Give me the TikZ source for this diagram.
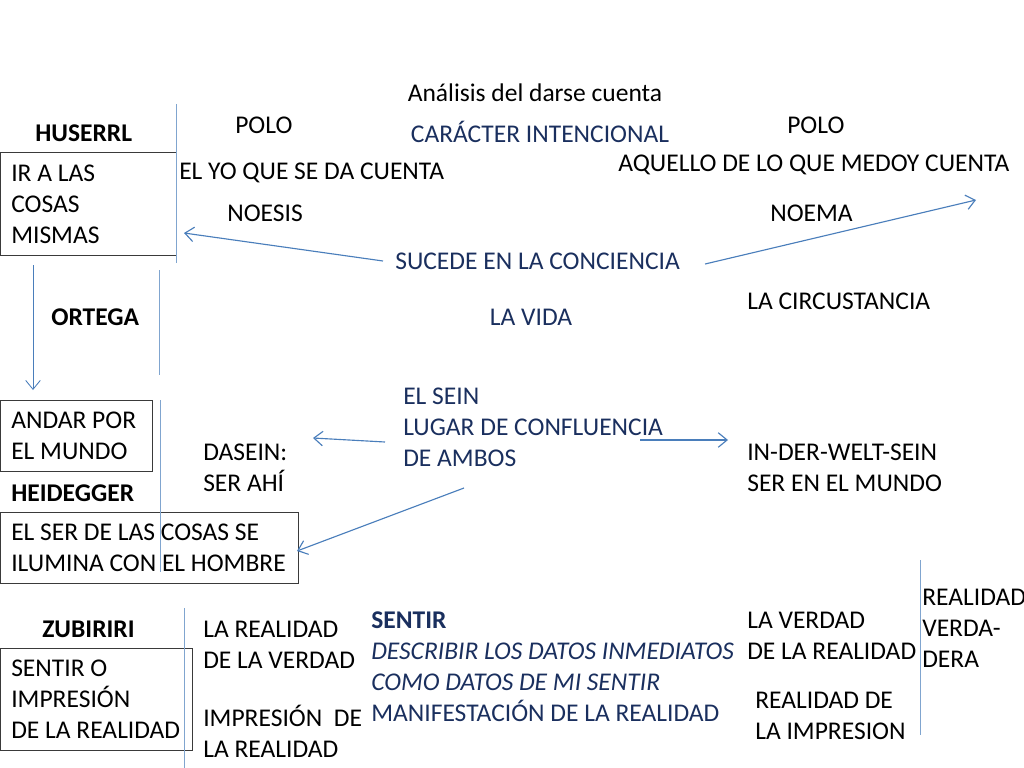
\documentclass[tikz,border=0pt]{standalone}
\usepackage{fontspec}
\setmainfont{Carlito}
\usetikzlibrary{arrows.meta}
\newlength\px
\setlength\px{0.0248cm}
\definecolor{navy}{HTML}{1A2F5E}
\definecolor{flecha}{HTML}{4A7EBB}
\definecolor{marco}{HTML}{3A3A3A}
\tikzset{
  txt/.style={anchor=west, inner sep=0pt, align=left, font=\fontsize{18}{21.8}\selectfont},
  azul/.style={txt, text=navy},
  negrita/.style={txt, font=\fontsize{18}{21.8}\selectfont\bfseries},
  caja/.style={draw=marco, line width=0.8pt, anchor=north west, inner sep=0pt},
  flechita/.style={draw=flecha, line width=0.8pt, -{Straight Barb[length=2.2mm,width=3.6mm]}},
  raya/.style={draw=flecha!70, line width=0.6pt}
}
\begin{document}
\begin{tikzpicture}[x=\px, y=-\px]
    \useasboundingbox (0,0) rectangle (1024,768);

    % Title and poles
    \node[txt, anchor=center] (titulo) at (535,93) {Análisis del darse cuenta};
    \node[txt] (polo1) at (235,125) {POLO};
    \node[txt] (polo2) at (787,125) {POLO};
    \node[azul, anchor=center] (caracter) at (540,132) {CARÁCTER INTENCIONAL};

    % Husserl
    \node[negrita] (husserl) at (35,133) {HUSERRL};
    \node[caja, minimum width=176\px, minimum height=103\px] (cosas) at (0,152) {};
    \node[txt] (cosastxt) at ([xshift=11\px]cosas.west) {IR A LAS\\COSAS\\MISMAS};
    \node[txt] (yo) at (179,173) {EL YO QUE SE DA CUENTA};
    \node[txt] (aquello) at (618,165) {AQUELLO DE LO QUE MEDOY CUENTA};
    \node[txt] (noesis) at (227,213) {NOESIS};
    \node[txt] (noema) at (770,213) {NOEMA};
    \node[azul] (sucede) at (395,261) {SUCEDE EN LA CONCIENCIA};
    \coordinate (c1) at (184,233);
    \coordinate (c2) at (976,200);
    \draw[flechita] ([xshift=-12\px]sucede.west) -- (c1);
    \draw[flechita] ([xshift=25\px,yshift=-3\px]sucede.east) -- (c2);
    \draw[raya] (176,104) -- (176,263);

    % Ortega
    \node[negrita] (ortega) at (51,317) {ORTEGA};
    \node[azul, anchor=center] (vida) at (531,317) {LA VIDA};
    \node[txt] (circ) at (747,301) {LA CIRCUSTANCIA};
    \draw[raya] (159,270) -- (159,375);
    \coordinate (c3) at (33,265);
    \coordinate (c4) at (33,390);
    \draw[flechita, line width=0.6pt] (c3) -- (c4);

    % Heidegger
    \node[caja, minimum width=152\px, minimum height=71\px] (andar) at (0,400) {};
    \node[txt] (andartxt) at ([xshift=11\px]andar.west) {ANDAR POR\\EL MUNDO};
    \node[txt] (dasein) at (203,467.5) {DASEIN:\\SER AHÍ};
    \node[azul] (sein) at (403,427) {EL SEIN\\LUGAR DE CONFLUENCIA\\DE AMBOS};
    \node[txt] (welt) at (747,468) {IN-DER-WELT-SEIN\\SER EN EL MUNDO};
    \node[negrita] (heidegger) at (11,493) {HEIDEGGER};
    \node[caja, minimum width=298\px, minimum height=71\px] (ilumina) at (0,512) {};
    \node[txt] (iluminatxt) at ([xshift=11\px]ilumina.west) {EL SER DE LAS COSAS SE\\ILUMINA CON EL HOMBRE};
    \coordinate (c5) at (313,438);
    \coordinate (c6) at (640,440);
    \coordinate (c7) at (728,440);
    \coordinate (c8) at (464,488);
    \coordinate (c9) at (297,551);
    \draw[flechita] ([xshift=-18\px,yshift=-15\px]sein.west) -- (c5);
    \draw[flechita] (c6) -- (c7);
    \draw[flechita] (c8) -- (c9);
    \draw[raya] (160,400) -- (160,572);

    % Zubiri
    \node[negrita] (zubiri) at (42,629) {ZUBIRIRI};
    \node[caja, minimum width=192\px, minimum height=102\px] (impresion) at (0,648) {};
    \node[txt] (impresiontxt) at ([xshift=11\px]impresion.west) {SENTIR O\\IMPRESIÓN\\DE LA REALIDAD};
    \node[txt] (realverdad) at (203,644.5) {LA REALIDAD\\DE LA VERDAD};
    \node[txt] (imprreal) at (203,731.5) {IMPRESIÓN~ DE\\LA REALIDAD};
    \node[azul] (sentir) at (371,666.5) {\textbf{SENTIR}\\\textit{DESCRIBIR LOS DATOS INMEDIATOS}\\\textit{COMO DATOS DE MI SENTIR}\\MANIFESTACIÓN DE LA REALIDAD};
    \node[txt] (verdadreal) at (747,635.5) {LA VERDAD\\DE LA REALIDAD};
    \node[txt] (realimpr) at (755,715.5) {REALIDAD DE\\LA IMPRESION};
    \node[txt] (verdadera) at (922,628) {REALIDAD\\VERDA-\\DERA};
    \draw[raya] (184,608) -- (184,768);
    \draw[raya] (920,560) -- (920,735);
\end{tikzpicture}
\end{document}
